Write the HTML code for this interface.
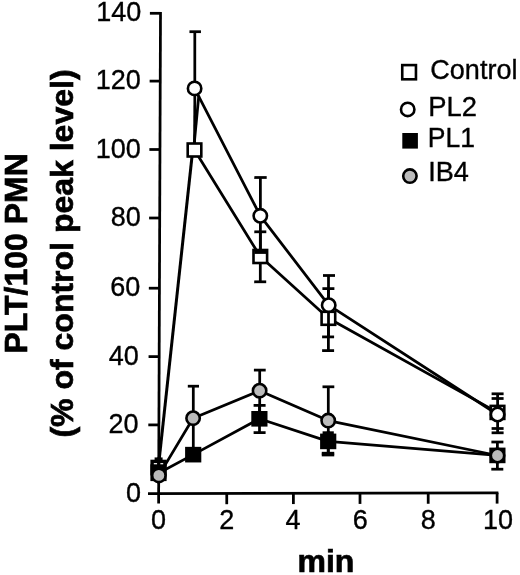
<!DOCTYPE html>
<html><head><meta charset="utf-8"><title>chart</title>
<style>
html,body{margin:0;padding:0;background:#fff;}
svg{display:block;will-change:transform;}
text{font-family:"Liberation Sans",sans-serif;fill:#000;stroke:#000;stroke-width:0.35px;}
text.b{stroke-width:0.7px;}
</style></head>
<body>
<svg width="520" height="575" viewBox="0 0 520 575">
<rect x="0" y="0" width="520" height="575" fill="#fff"/>
<line x1="160.5" y1="12" x2="158.6" y2="503.6" stroke="#000" stroke-width="2.75" />
<line x1="148" y1="493.6" x2="498.4" y2="492.8" stroke="#000" stroke-width="2.75" />
<line x1="149.894" y1="13.3" x2="160.494" y2="13.3" stroke="#000" stroke-width="2.75" />
<line x1="149.632" y1="81.1" x2="160.232" y2="81.1" stroke="#000" stroke-width="2.75" />
<line x1="149.368" y1="149.5" x2="159.968" y2="149.5" stroke="#000" stroke-width="2.75" />
<line x1="149.103" y1="218" x2="159.703" y2="218" stroke="#000" stroke-width="2.75" />
<line x1="148.832" y1="288.2" x2="159.432" y2="288.2" stroke="#000" stroke-width="2.75" />
<line x1="148.568" y1="356.6" x2="159.168" y2="356.6" stroke="#000" stroke-width="2.75" />
<line x1="148.304" y1="424.9" x2="158.904" y2="424.9" stroke="#000" stroke-width="2.75" />
<line x1="226.75" y1="493.420" x2="226.75" y2="504.220" stroke="#000" stroke-width="2.75" />
<line x1="293.4" y1="493.268" x2="293.4" y2="504.068" stroke="#000" stroke-width="2.75" />
<line x1="360" y1="493.115" x2="360" y2="503.915" stroke="#000" stroke-width="2.75" />
<line x1="428.2" y1="492.960" x2="428.2" y2="503.760" stroke="#000" stroke-width="2.75" />
<line x1="497.1" y1="492.802" x2="497.1" y2="503.602" stroke="#000" stroke-width="2.75" />
<text x="141.2" y="21.2" font-size="27" text-anchor="end" font-weight="normal" >140</text>
<text x="140.799" y="89.2" font-size="27" text-anchor="end" font-weight="normal" >120</text>
<text x="140.7" y="158.200" font-size="27" text-anchor="end" font-weight="normal" >100</text>
<text x="140.7" y="226.100" font-size="27" text-anchor="end" font-weight="normal" >80</text>
<text x="140.399" y="296.3" font-size="27" text-anchor="end" font-weight="normal" >60</text>
<text x="138.799" y="364.6" font-size="27" text-anchor="end" font-weight="normal" >40</text>
<text x="138.5" y="433.400" font-size="27" text-anchor="end" font-weight="normal" >20</text>
<text x="141.1" y="502.2" font-size="27" text-anchor="end" font-weight="normal" >0</text>
<text x="158.4" y="529.0" font-size="27" text-anchor="middle" font-weight="normal" >0</text>
<text x="226.8" y="529.0" font-size="27" text-anchor="middle" font-weight="normal" >2</text>
<text x="293.0" y="529.0" font-size="27" text-anchor="middle" font-weight="normal" >4</text>
<text x="360.2" y="529.0" font-size="27" text-anchor="middle" font-weight="normal" >6</text>
<text x="428.2" y="529.0" font-size="27" text-anchor="middle" font-weight="normal" >8</text>
<text x="498.0" y="529.0" font-size="27" text-anchor="middle" font-weight="normal" >10</text>
<polyline points="194.5,150 260.3,256.5 328.4,318.3 497.5,412.4" fill="none" stroke="#000" stroke-width="2.75" stroke-linejoin="round"/>
<polyline points="194.6,88.4 260.3,215.8 328.7,305.2 497.6,414.5" fill="none" stroke="#000" stroke-width="2.75" stroke-linejoin="round"/>
<polyline points="158.5,473.3 193.2,454.65 259.4,418.8 328.2,441.4 497.4,455.4" fill="none" stroke="#000" stroke-width="2.75" stroke-linejoin="round"/>
<polyline points="158.85,475.4 193.1,418.2 259.6,390.7 328.2,420.6 497.5,455.5" fill="none" stroke="#000" stroke-width="2.75" stroke-linejoin="round"/>
<line x1="158.3" y1="467.8" x2="192.7" y2="150" stroke="#000" stroke-width="3.0" />
<line x1="193.6" y1="150" x2="198.8" y2="95.5" stroke="#000" stroke-width="2.75" />
<line x1="194.5" y1="150" x2="194.85" y2="96" stroke="#000" stroke-width="2.75" />
<line x1="260.3" y1="231.8" x2="260.3" y2="281.8" stroke="#000" stroke-width="2.75" />
<line x1="254.3" y1="231.8" x2="266.3" y2="231.8" stroke="#000" stroke-width="2.75" />
<line x1="254.2" y1="281.8" x2="266.2" y2="281.8" stroke="#000" stroke-width="2.75" />
<line x1="328.4" y1="288.6" x2="328.4" y2="350.6" stroke="#000" stroke-width="2.75" />
<line x1="322.4" y1="288.6" x2="334.4" y2="288.6" stroke="#000" stroke-width="2.75" />
<line x1="322.1" y1="350.6" x2="334.1" y2="350.6" stroke="#000" stroke-width="2.75" />
<line x1="497.6" y1="393.8" x2="497.6" y2="432.8" stroke="#000" stroke-width="2.75" />
<line x1="491.6" y1="398.5" x2="503.6" y2="398.5" stroke="#000" stroke-width="2.75" />
<line x1="491.6" y1="428.5" x2="503.6" y2="428.5" stroke="#000" stroke-width="2.75" />
<line x1="158.6" y1="458.6" x2="158.6" y2="470" stroke="#000" stroke-width="2.75" />
<line x1="154.6" y1="458.8" x2="162.6" y2="458.8" stroke="#000" stroke-width="2.75" />
<rect x="187.7" y="143.5" width="13.6" height="13.0" fill="#fff" stroke="#000" stroke-width="2.6"/>
<rect x="253.5" y="250.0" width="13.6" height="13.0" fill="#fff" stroke="#000" stroke-width="2.6"/>
<rect x="321.599" y="311.8" width="13.6" height="13.0" fill="#fff" stroke="#000" stroke-width="2.6"/>
<rect x="490.7" y="405.9" width="13.6" height="13.0" fill="#fff" stroke="#000" stroke-width="2.6"/>
<rect x="152.1" y="461.4" width="12.8" height="12.2" fill="#fff" stroke="#000" stroke-width="3.4"/>
<line x1="158.75" y1="457.5" x2="158.7" y2="468" stroke="#000" stroke-width="3.3" />
<line x1="194.8" y1="31.7" x2="194.8" y2="88" stroke="#000" stroke-width="2.75" />
<line x1="189.45" y1="31.7" x2="200.95" y2="31.7" stroke="#000" stroke-width="2.75" />
<line x1="260.4" y1="177.5" x2="260.4" y2="252.9" stroke="#000" stroke-width="2.75" />
<line x1="254.3" y1="177.5" x2="266.7" y2="177.5" stroke="#000" stroke-width="2.75" />
<line x1="254.3" y1="252.4" x2="266.3" y2="252.4" stroke="#000" stroke-width="3.0" />
<line x1="328.5" y1="275.5" x2="328.5" y2="336.9" stroke="#000" stroke-width="2.75" />
<line x1="323.0" y1="275.5" x2="335.0" y2="275.5" stroke="#000" stroke-width="2.75" />
<line x1="322.1" y1="336.9" x2="334.1" y2="336.9" stroke="#000" stroke-width="2.75" />
<line x1="491.6" y1="393.8" x2="503.6" y2="393.8" stroke="#000" stroke-width="2.75" />
<line x1="491.6" y1="432.8" x2="503.6" y2="432.8" stroke="#000" stroke-width="2.75" />
<circle cx="194.6" cy="88.4" r="6.7" fill="#fff" stroke="#000" stroke-width="2.6"/>
<circle cx="260.3" cy="215.8" r="6.7" fill="#fff" stroke="#000" stroke-width="2.6"/>
<circle cx="328.7" cy="305.2" r="6.7" fill="#fff" stroke="#000" stroke-width="2.6"/>
<circle cx="497.6" cy="414.5" r="6.7" fill="#fff" stroke="#000" stroke-width="2.6"/>
<line x1="259.5" y1="405.4" x2="259.5" y2="432.6" stroke="#000" stroke-width="2.75" />
<line x1="253.600" y1="405.4" x2="265.6" y2="405.4" stroke="#000" stroke-width="2.75" />
<line x1="253.600" y1="432.6" x2="265.6" y2="432.6" stroke="#000" stroke-width="2.75" />
<line x1="328.2" y1="431" x2="328.2" y2="455" stroke="#000" stroke-width="2.75" />
<line x1="322.599" y1="432.7" x2="333.8" y2="432.7" stroke="#000" stroke-width="2.75" />
<line x1="321.75" y1="453.2" x2="334.25" y2="453.2" stroke="#000" stroke-width="2.75" />
<line x1="497.4" y1="442" x2="497.4" y2="469.2" stroke="#000" stroke-width="2.75" />
<line x1="491.4" y1="442" x2="503.4" y2="442" stroke="#000" stroke-width="2.75" />
<line x1="491.3" y1="469.2" x2="503.3" y2="469.2" stroke="#000" stroke-width="2.75" />
<rect x="185.1" y="446.849" width="16.2" height="15.6" fill="#000"/>
<rect x="251.299" y="411.0" width="16.2" height="15.6" fill="#000"/>
<rect x="320.099" y="433.599" width="16.2" height="15.6" fill="#000"/>
<rect x="489.299" y="447.599" width="16.2" height="15.6" fill="#000"/>
<rect x="150.4" y="464.3" width="16.2" height="16.8" fill="#000"/>
<line x1="193.3" y1="386.2" x2="193.3" y2="450" stroke="#000" stroke-width="2.75" />
<line x1="187.8" y1="386.2" x2="199.0" y2="386.2" stroke="#000" stroke-width="2.75" />
<line x1="259.7" y1="370.1" x2="259.7" y2="411" stroke="#000" stroke-width="2.75" />
<line x1="253.9" y1="370.1" x2="265.7" y2="370.1" stroke="#000" stroke-width="2.75" />
<line x1="328.3" y1="386.8" x2="328.3" y2="455" stroke="#000" stroke-width="2.75" />
<line x1="322.5" y1="386.8" x2="334.299" y2="386.8" stroke="#000" stroke-width="2.75" />
<line x1="321.75" y1="455.0" x2="334.25" y2="455.0" stroke="#000" stroke-width="2.75" />
<line x1="158.7" y1="475" x2="158.7" y2="483.5" stroke="#000" stroke-width="2.75" />
<circle cx="158.85" cy="475.4" r="6.7" fill="#bbbbbb" stroke="#000" stroke-width="2.6"/>
<circle cx="193.1" cy="418.2" r="6.7" fill="#bbbbbb" stroke="#000" stroke-width="2.6"/>
<circle cx="259.6" cy="390.7" r="6.7" fill="#bbbbbb" stroke="#000" stroke-width="2.6"/>
<circle cx="328.2" cy="420.6" r="6.7" fill="#bbbbbb" stroke="#000" stroke-width="2.6"/>
<circle cx="497.5" cy="455.5" r="6.7" fill="#bbbbbb" stroke="#000" stroke-width="2.6"/>
<rect x="402.25" y="65.100" width="13.7" height="14.2" fill="#fff" stroke="#000" stroke-width="2.6"/>
<text x="430.3" y="78.9" font-size="27.5" text-anchor="start" font-weight="normal" textLength="87.2" lengthAdjust="spacingAndGlyphs" >Control</text>
<circle cx="407.7" cy="109.4" r="6.7" fill="#fff" stroke="#000" stroke-width="2.6"/>
<text x="428.2" y="116.4" font-size="27.5" text-anchor="start" font-weight="normal" textLength="48.7" lengthAdjust="spacingAndGlyphs" >PL2</text>
<rect x="402.3" y="133.0" width="15.6" height="15.6" fill="#000"/>
<text x="427.8" y="146.8" font-size="27.5" text-anchor="start" font-weight="normal" textLength="47.2" lengthAdjust="spacingAndGlyphs" >PL1</text>
<circle cx="409.9" cy="176.1" r="6.7" fill="#bbbbbb" stroke="#000" stroke-width="2.6"/>
<text x="428.2" y="181.0" font-size="27.5" text-anchor="start" font-weight="normal" textLength="40.7" lengthAdjust="spacingAndGlyphs" >IB4</text>
<text transform="translate(27.3,253.3) rotate(-90)" font-size="32" font-weight="bold" text-anchor="middle" class="b">PLT/100 PMN</text>
<text transform="translate(73.1,253.5) rotate(-90)" font-size="32" font-weight="bold" text-anchor="middle" class="b">(% of control peak level)</text>
<text x="325.9" y="571.9" font-size="32" text-anchor="middle" font-weight="bold" class="b">min</text>
</svg>
</body></html>
